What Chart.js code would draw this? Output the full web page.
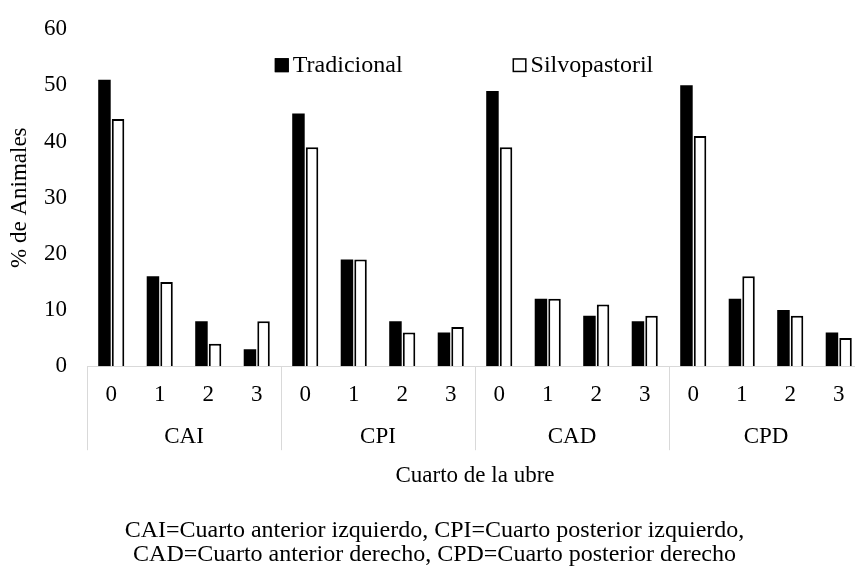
<!DOCTYPE html>
<html>
<head>
<meta charset="utf-8">
<script src="https://cdn.jsdelivr.net/npm/chart.js@4/dist/chart.umd.min.js"></script>
<style>
  html, body { margin: 0; padding: 0; background: #fff; overflow: hidden; }
  #wrap { position: relative; width: 855px; height: 569px; overflow: hidden; }
</style>
</head>
<body>
<div id="wrap"><canvas id="c" width="880" height="569"></canvas></div>
<script>
const groups = ['CAI', 'CPI', 'CAD', 'CPD'];
const levels = ['0', '1', '2', '3'];
const tradicional   = [51, 16, 8, 3,  45, 19, 8, 6,  49, 12, 9, 8,  50, 12, 10, 6];
const silvopastoril = [44, 15, 4, 8,  39, 19, 6, 7,  39, 12, 11, 9, 41, 16, 9, 5];
const seriesNames = ['Tradicional', 'Silvopastoril'];
const yAxisTitle = '% de Animales';
const xAxisTitle = 'Cuarto de la ubre';
const footnote = [
  'CAI=Cuarto anterior izquierdo, CPI=Cuarto posterior izquierdo,',
  'CAD=Cuarto anterior derecho, CPD=Cuarto posterior derecho'
];

const FONT = 'Liberation Serif';
const labels = groups.flatMap(() => levels);

const groupAxisPlugin = {
  id: 'groupAxis',
  afterDraw(chart) {
    const ctx = chart.ctx;
    const x = chart.scales.x;
    const area = chart.chartArea;
    const half = (x.getPixelForValue(1) - x.getPixelForValue(0)) / 2;
    const n = levels.length;
    ctx.save();
    ctx.strokeStyle = '#d9d9d9';
    ctx.lineWidth = 1;
    for (let g = 0; g <= groups.length; g++) {
      const px = Math.round(x.getPixelForValue(g * n) - half) + 0.5;
      ctx.beginPath();
      ctx.moveTo(px, area.bottom);
      ctx.lineTo(px, area.bottom + 84);
      ctx.stroke();
    }
    ctx.fillStyle = '#000';
    ctx.font = '23px "' + FONT + '"';
    ctx.textAlign = 'center';
    ctx.textBaseline = 'middle';
    groups.forEach((name, g) => {
      const l = x.getPixelForValue(g * n) - half;
      const r = x.getPixelForValue(g * n + n - 1) + half;
      ctx.fillText(name, (l + r) / 2, area.bottom + 71);
    });
    ctx.restore();
  }
};

const legendPlugin = {
  id: 'innerLegend',
  afterDraw(chart) {
    const ctx = chart.ctx;
    const area = chart.chartArea;
    ctx.save();
    ctx.font = '24px "' + FONT + '"';
    ctx.textBaseline = 'middle';
    ctx.textAlign = 'left';
    const box = 14, gapBox = 4, gapItem = 110;
    const ds = chart.data.datasets;
    const widths = ds.map(d => box + gapBox + ctx.measureText(d.label).width);
    const total = widths.reduce((a, b) => a + b, 0) + gapItem * (ds.length - 1);
    let xPos = (area.left + area.right) / 2 - total / 2 - 11;
    const yc = area.top + 36;
    ds.forEach((d, i) => {
      ctx.fillStyle = d.backgroundColor;
      ctx.fillRect(xPos, yc - box / 2, box, box);
      ctx.strokeStyle = '#000';
      ctx.lineWidth = 1.5;
      ctx.strokeRect(xPos + 0.75, yc - box / 2 + 0.75, box - 1.5, box - 1.5);
      ctx.fillStyle = '#000';
      ctx.fillText(d.label, xPos + box + gapBox, yc + 1);
      xPos += widths[i] + gapItem;
    });
    ctx.restore();
  }
};

new Chart(document.getElementById('c'), {
  type: 'bar',
  data: {
    labels: labels,
    datasets: [
      {
        label: seriesNames[0],
        data: tradicional,
        backgroundColor: '#000',
        borderColor: '#000',
        borderWidth: 0,
        categoryPercentage: 0.56,
        barPercentage: 0.92
      },
      {
        label: seriesNames[1],
        data: silvopastoril,
        backgroundColor: '#fff',
        borderColor: '#000',
        borderWidth: 2,
        categoryPercentage: 0.56,
        barPercentage: 0.92
      }
    ]
  },
  options: {
    responsive: false,
    animation: false,
    events: [],
    layout: { padding: { left: 6, right: 17, top: 29, bottom: 0 } },
    plugins: {
      legend: { display: false },
      tooltip: { enabled: false },
      title: {
        display: true,
        position: 'bottom',
        text: footnote,
        color: '#000',
        font: { family: FONT, size: 24, weight: 'normal', lineHeight: 1.0 },
        padding: { top: 29, bottom: 2 }
      }
    },
    scales: {
      x: {
        type: 'category',
        grid: { display: false, drawTicks: false },
        border: { display: true, color: '#d9d9d9', width: 1 },
        ticks: {
          color: '#000',
          font: { family: FONT, size: 23 },
          padding: 15.2,
          maxRotation: 0,
          autoSkip: false
        },
        title: {
          display: true,
          text: xAxisTitle,
          color: '#000',
          font: { family: FONT, size: 23 },
          padding: { top: 38.2, bottom: 0 }
        }
      },
      y: {
        min: 0,
        max: 60,
        grid: { display: false, drawTicks: false },
        border: { display: false },
        ticks: {
          stepSize: 10,
          color: '#000',
          font: { family: FONT, size: 23, lineHeight: 0.8 },
          padding: 20
        },
        title: {
          display: true,
          text: yAxisTitle,
          color: '#000',
          font: { family: FONT, size: 23 },
          padding: { top: 0, bottom: -9.6 }
        }
      }
    }
  },
  plugins: [groupAxisPlugin, legendPlugin]
});
</script>
</body>
</html>
